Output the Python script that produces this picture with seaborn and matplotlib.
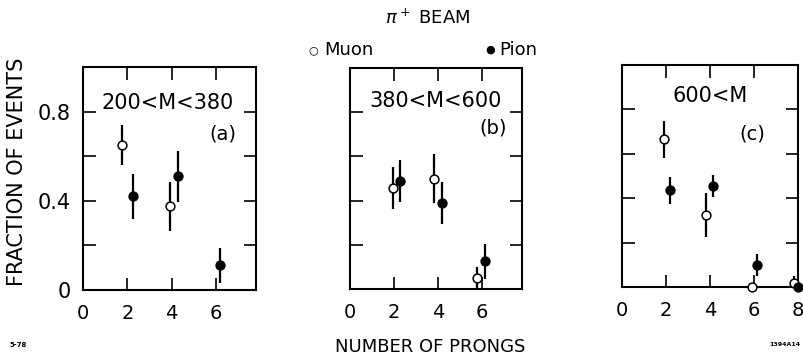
import matplotlib
matplotlib.use("Agg")
import matplotlib.pyplot as plt
import seaborn as sns
import pandas as pd
from matplotlib.ticker import MultipleLocator

sns.set_style("ticks")
plt.rcParams['font.family'] = ['DejaVu Sans']
plt.rcParams['text.color'] = 'black'
plt.rcParams['xtick.color'] = 'black'
plt.rcParams['ytick.color'] = 'black'
plt.rcParams['axes.labelcolor'] = 'black'

# Panel labels
panel_ranges = ["200<M<380", "380<M<600", "600<M"]
panel_tags = ["(a)", "(b)", "(c)"]

# Muon (open circles): x position, fraction, error
muon_x = [[1.75, 3.9], [1.93, 3.8, 5.77], [1.9, 3.8, 5.9, 7.8]]
muon_y = [[0.65, 0.375], [0.455, 0.50, 0.05], [0.665, 0.325, 0.0, 0.02]]
muon_e = [[0.09, 0.11], [0.095, 0.11, 0.05], [0.085, 0.10, 0.0, 0.03]]

# Pion (filled circles)
pion_x = [[2.27, 4.3, 6.17], [2.29, 4.16, 6.14], [2.2, 4.15, 6.14, 8.0]]
pion_y = [[0.42, 0.51, 0.11], [0.49, 0.39, 0.125], [0.435, 0.455, 0.10, 0.0]]
pion_e = [[0.10, 0.115, 0.08], [0.095, 0.095, 0.08], [0.06, 0.05, 0.05, 0.0]]

x_max = [7.8, 7.8, 8.0]
x_ticks = [[0, 2, 4, 6], [0, 2, 4, 6], [0, 2, 4, 6, 8]]

fig = plt.figure(figsize=(8.04, 3.56), dpi=100)
positions = [
    [83 / 804, 66 / 356, 173 / 804, 223 / 356],
    [350 / 804, 67 / 356, 172 / 804, 221 / 356],
    [622 / 804, 69 / 356, 176 / 804, 222 / 356],
]
range_pos = [(0.49, 0.84), (0.5, 0.85), (0.5, 0.86)]
tag_pos = [(0.81, 0.70), (0.83, 0.73), (0.74, 0.69)]

for i in range(3):
    ax = fig.add_axes(positions[i])
    dm = pd.DataFrame({"x": muon_x[i], "y": muon_y[i], "e": muon_e[i]})
    dp = pd.DataFrame({"x": pion_x[i], "y": pion_y[i], "e": pion_e[i]})
    ax.errorbar(dm["x"], dm["y"], yerr=dm["e"], fmt="none", ecolor="black",
                elinewidth=1.6, capsize=0, zorder=2, clip_on=True)
    ax.errorbar(dp["x"], dp["y"], yerr=dp["e"], fmt="none", ecolor="black",
                elinewidth=1.6, capsize=0, zorder=2, clip_on=True)
    sns.scatterplot(data=dm, x="x", y="y", ax=ax, marker="o", s=40,
                    facecolor="white", edgecolor="black", linewidth=1.1,
                    zorder=3, clip_on=False)
    sns.scatterplot(data=dp, x="x", y="y", ax=ax, marker="o", s=40,
                    color="black", edgecolor="black", linewidth=1.1,
                    zorder=3, clip_on=False)
    ax.set_xlim(0, x_max[i])
    ax.set_ylim(0, 1.0)
    ax.set_xticks(x_ticks[i])
    ax.set_xticklabels([str(t) for t in x_ticks[i]], fontsize=14)
    ax.set_yticks([0, 0.4, 0.8])
    ax.yaxis.set_minor_locator(MultipleLocator(0.2))
    if i == 0:
        ax.set_yticklabels(["0", "0.4", "0.8"], fontsize=15)
    else:
        ax.set_yticklabels([])
    ax.tick_params(axis="both", which="both", direction="in", top=True,
                   right=True, length=9, width=1.2, color="black",
                   labelcolor="black")
    ax.tick_params(axis="x", pad=10)
    ax.tick_params(axis="y", pad=9)
    ax.set_xlabel("")
    ax.set_ylabel("")
    for sp in ax.spines.values():
        sp.set_linewidth(1.5)
        sp.set_color("black")
    ax.text(range_pos[i][0], range_pos[i][1], panel_ranges[i],
            transform=ax.transAxes, ha="center", va="center", fontsize=15)
    ax.text(tag_pos[i][0], tag_pos[i][1], panel_tags[i],
            transform=ax.transAxes, ha="center", va="center", fontsize=14)

fig.text(17 / 804, 1 - 172 / 356, "FRACTION OF EVENTS", rotation=90,
         ha="center", va="center", fontsize=15)
fig.text(430 / 804, 1 - 347 / 356, "NUMBER OF PRONGS", ha="center",
         va="center", fontsize=13)
fig.text(428 / 804, 1 - 18 / 356, r"$\pi^+$ BEAM", ha="center",
         va="center", fontsize=13)
fig.text(313 / 804, 1 - 50 / 356, "\u25CB", ha="center", va="center",
         fontsize=8)
fig.text(324 / 804, 1 - 50 / 356, "Muon", ha="left", va="center",
         fontsize=13)
fig.text(490 / 804, 1 - 50 / 356, "\u25CF", ha="center", va="center",
         fontsize=8)
fig.text(499 / 804, 1 - 50 / 356, "Pion", ha="left", va="center",
         fontsize=13)
fig.text(10 / 804, 1 - 345 / 356, "5-78", ha="left", va="center",
         fontsize=5, fontweight="bold")
fig.text(800 / 804, 1 - 345 / 356, "1394A14", ha="right", va="center",
         fontsize=4.5, fontweight="bold")

fig.savefig("out.png", dpi=100)
